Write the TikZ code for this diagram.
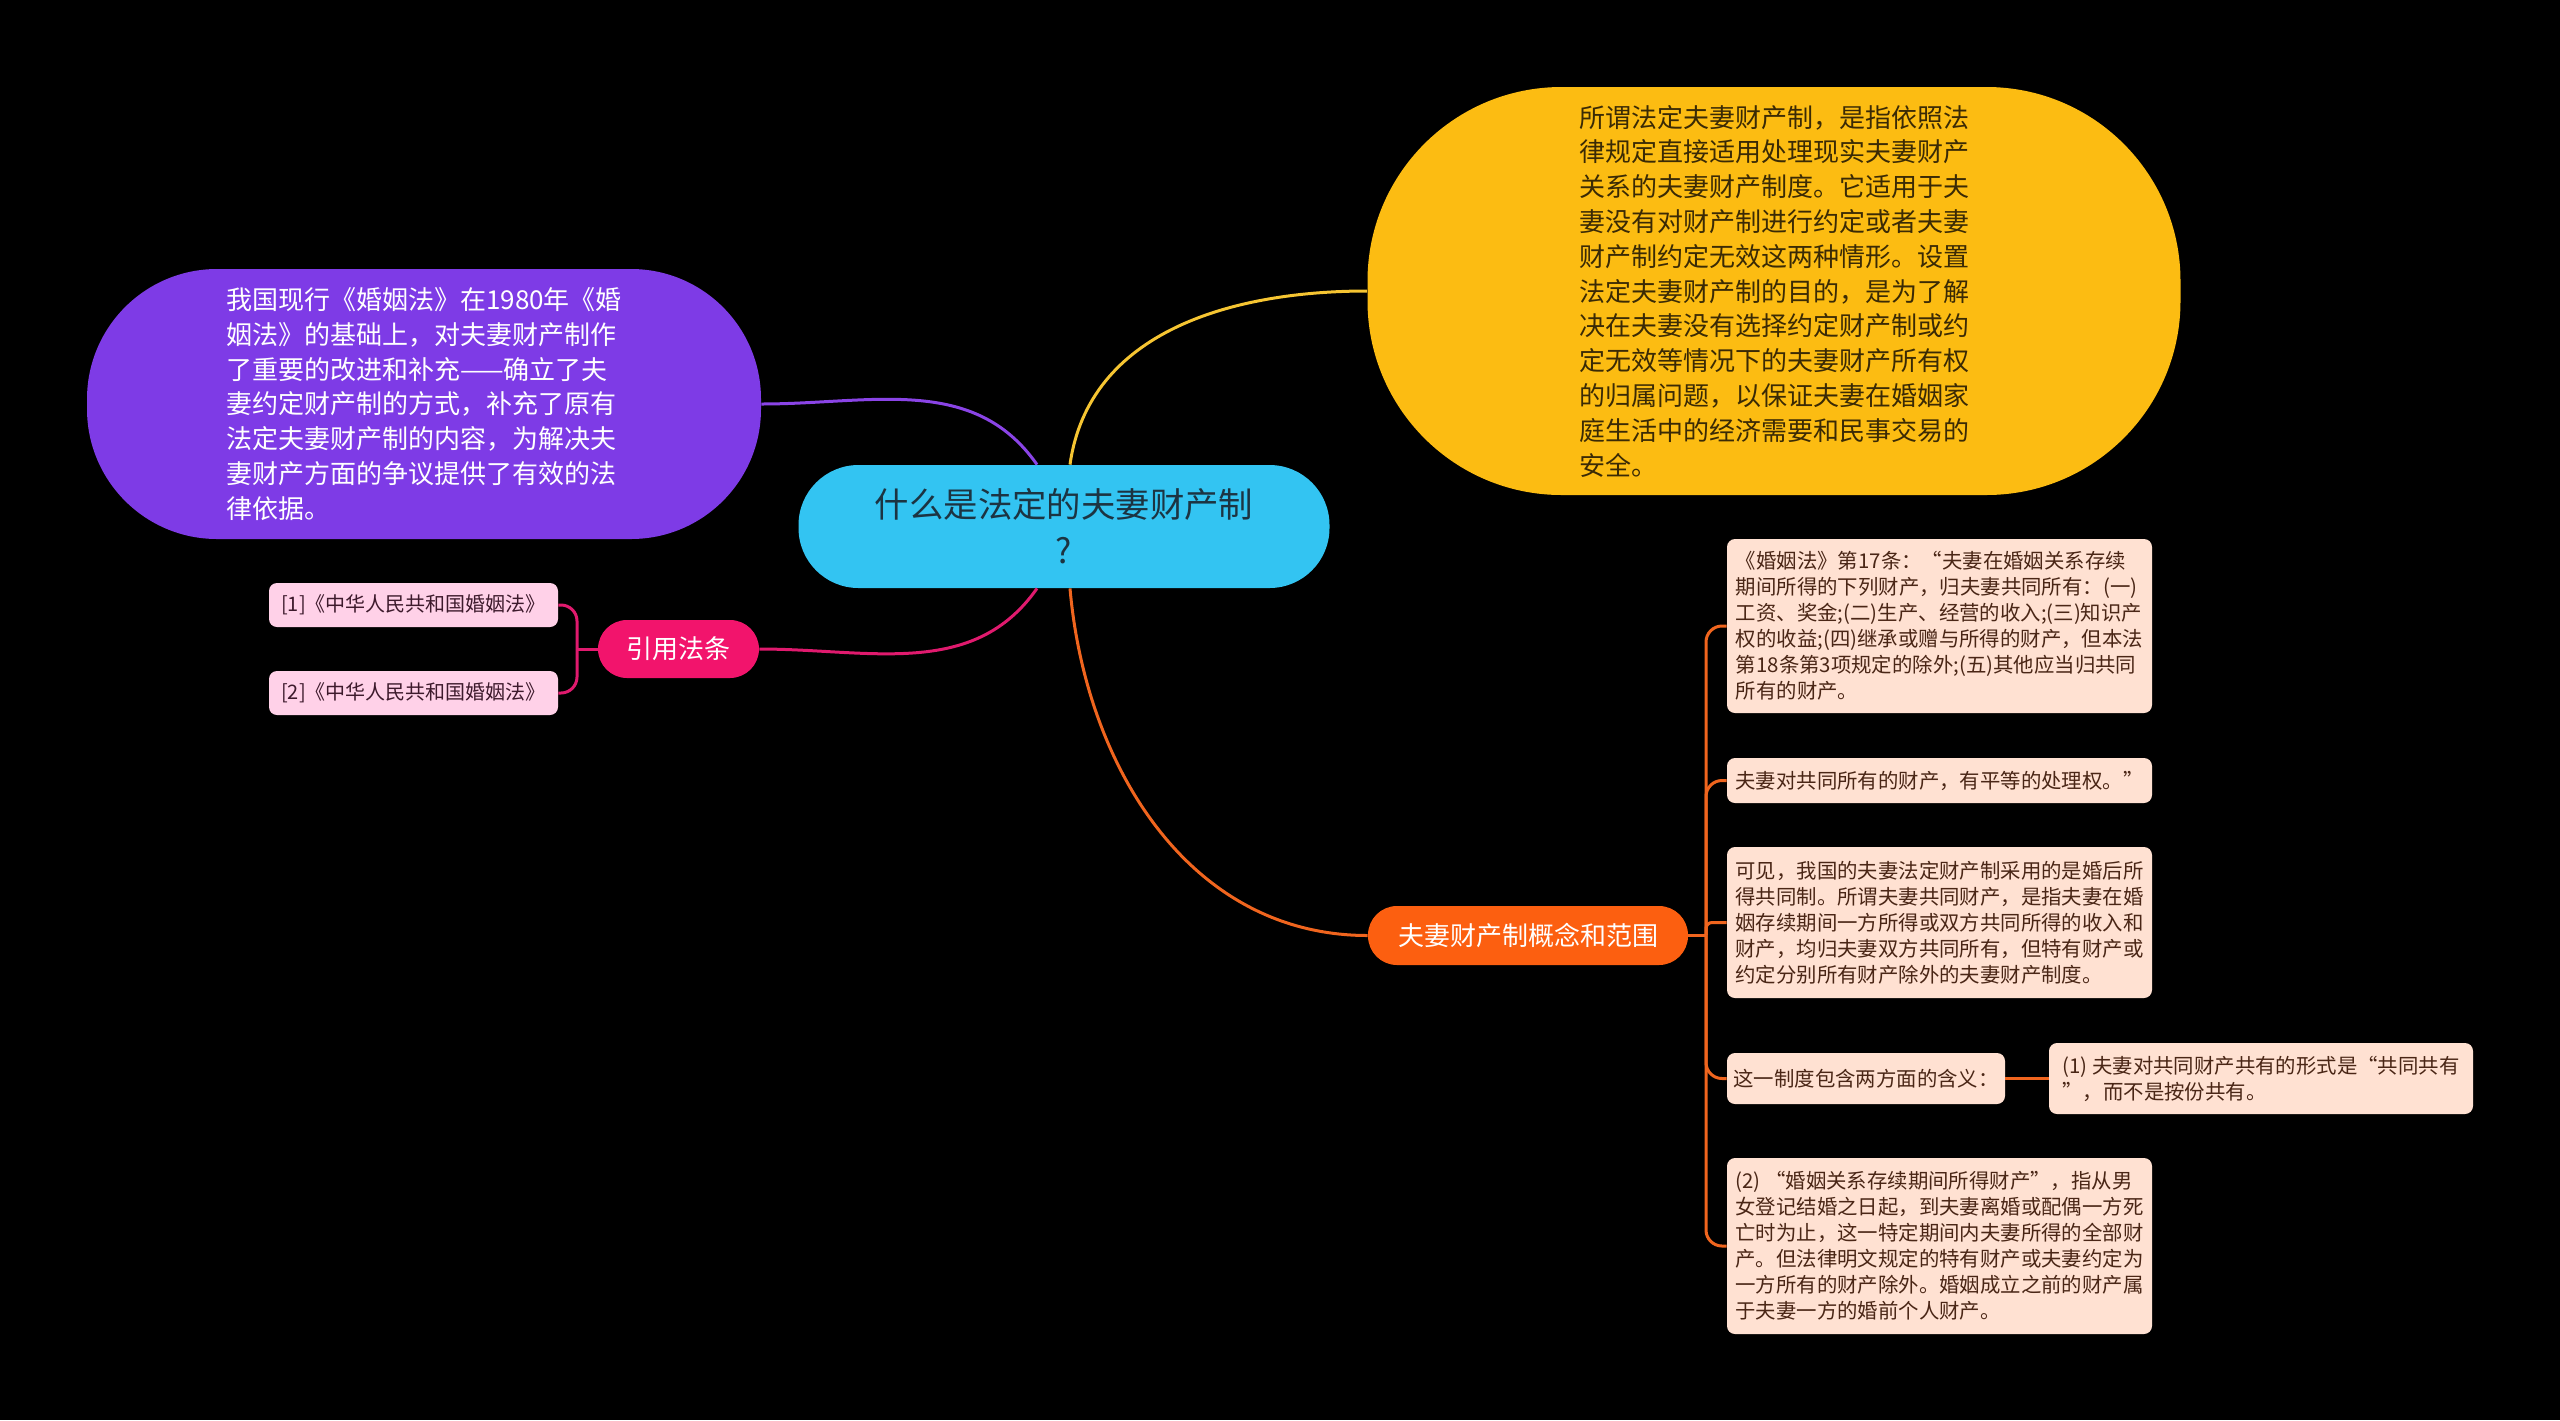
\documentclass[tikz,border=0pt]{standalone}
\usepackage{fontspec}
\setmainfont{Noto Sans CJK SC}
\usetikzlibrary{calc}
\definecolor{rootfill}{HTML}{33C4F2}
\definecolor{roottxt}{HTML}{1C3442}
\definecolor{purplefill}{HTML}{7E3BE6}
\definecolor{yellowfill}{HTML}{FCBC12}
\definecolor{yellowtxt}{HTML}{3A2A05}
\definecolor{citefill}{HTML}{F2146C}
\definecolor{citebox}{HTML}{FFD1E8}
\definecolor{citetxt}{HTML}{3D1A2C}
\definecolor{orangefill}{HTML}{FC5F10}
\definecolor{peach}{HTML}{FFE1D2}
\definecolor{peachtxt}{HTML}{4A2616}
\definecolor{lpurple}{HTML}{8A44E6}
\definecolor{lyellow}{HTML}{F6C532}
\definecolor{lpink}{HTML}{E01A6E}
\definecolor{lorange}{HTML}{F0651E}
\tikzset{
  rootnode/.style={rectangle, rounded corners=30pt, fill=rootfill, text=roottxt, align=center, inner sep=0pt,
    font=\fontsize{17.2pt}{23pt}\selectfont},
  bignode/.style={rectangle, inner sep=0pt, align=left, font=\fontsize{13pt}{17.4pt}\selectfont},
  mainnode/.style={rectangle, inner sep=0pt, align=center, text=white, rounded corners=14.5pt,
    font=\fontsize{13pt}{16pt}\selectfont},
  citeitem/.style={rectangle, inner sep=0pt, rounded corners=4pt, fill=citebox, text=citetxt,
    minimum width=144.5pt, minimum height=22pt, font=\fontsize{10pt}{12pt}\selectfont},
  leafbox/.style={rectangle, inner sep=0pt, rounded corners=4pt, fill=peach, text=peachtxt, align=left,
    font=\fontsize{10.2pt}{13pt}\selectfont},
  conn/.style={line width=1.5pt},
}
\begin{document}
\begin{tikzpicture}[x=0.5pt,y=-0.5pt]
\fill[black] (0,0) rectangle (2560,1420);
\useasboundingbox (0,0) rectangle (2560,1420);

% nodes
\node[rootnode, minimum width=265.5pt, minimum height=61.5pt] (root) at (1064,526.5)
  {什么是法定的夫妻财产制\\?};

\node[bignode, fill=purplefill, text=white, rounded corners=65pt, minimum width=337pt, minimum height=135pt] (purple) at (424,404)
  {我国现行《婚姻法》在1980年《婚\\姻法》的基础上，对夫妻财产制作\\了重要的改进和补充——确立了夫\\妻约定财产制的方式，补充了原有\\法定夫妻财产制的内容，为解决夫\\妻财产方面的争议提供了有效的法\\律依据。};

\node[bignode, fill=yellowfill, text=yellowtxt, rounded corners=97pt, minimum width=406.5pt, minimum height=204pt] (yellow) at (1774,291)
  {所谓法定夫妻财产制，是指依照法\\律规定直接适用处理现实夫妻财产\\关系的夫妻财产制度。它适用于夫\\妻没有对财产制进行约定或者夫妻\\财产制约定无效这两种情形。设置\\法定夫妻财产制的目的，是为了解\\决在夫妻没有选择约定财产制或约\\定无效等情况下的夫妻财产所有权\\的归属问题，以保证夫妻在婚姻家\\庭生活中的经济需要和民事交易的\\安全。};

\node[mainnode, fill=citefill, minimum width=80.5pt, minimum height=29pt] (cite) at (678.5,649) {引用法条};
\node[citeitem] (c1) at (413.5,605) {[1]《中华人民共和国婚姻法》};
\node[citeitem] (c2) at (413.5,693) {[2]《中华人民共和国婚姻法》};

\node[mainnode, fill=orangefill, minimum width=160pt, minimum height=29.5pt] (orange) at (1528,935.5) {夫妻财产制概念和范围};

\node[leafbox, minimum width=212.5pt, minimum height=87pt] (A) at (1939.5,626)
  {《婚姻法》第17条：“夫妻在婚姻关系存续\\期间所得的下列财产，归夫妻共同所有：(一)\\工资、奖金;(二)生产、经营的收入;(三)知识产\\权的收益;(四)继承或赠与所得的财产，但本法\\第18条第3项规定的除外;(五)其他应当归共同\\所有的财产。};
\node[leafbox, minimum width=212.5pt, minimum height=22.5pt] (B) at (1939.5,780.5)
  {夫妻对共同所有的财产，有平等的处理权。”};
\node[leafbox, minimum width=212.5pt, minimum height=75.5pt] (C) at (1939.5,922.5)
  {可见，我国的夫妻法定财产制采用的是婚后所\\得共同制。所谓夫妻共同财产，是指夫妻在婚\\姻存续期间一方所得或双方共同所得的收入和\\财产，均归夫妻双方共同所有，但特有财产或\\约定分别所有财产除外的夫妻财产制度。};
\node[leafbox, minimum width=139pt, minimum height=25.5pt] (D) at (1866,1078.5)
  {这一制度包含两方面的含义：};
\node[leafbox, minimum width=212pt, minimum height=35.5pt] (E) at (2261,1078.5)
  {(1) 夫妻对共同财产共有的形式是“共同共有\\”，而不是按份共有。};
\node[leafbox, minimum width=212.5pt, minimum height=88pt] (F) at (1939.5,1246)
  {(2) “婚姻关系存续期间所得财产”，指从男\\女登记结婚之日起，到夫妻离婚或配偶一方死\\亡时为止，这一特定期间内夫妻所得的全部财\\产。但法律明文规定的特有财产或夫妻约定为\\一方所有的财产除外。婚姻成立之前的财产属\\于夫妻一方的婚前个人财产。};

% connectors from root
\draw[conn, lpurple] (purple.east) to[out=0,in=125] ([xshift=-13.5pt]root.north);
\draw[conn, lyellow] ([xshift=3pt]root.north) to[out=82,in=180] (yellow.west);
\draw[conn, lpink] ([xshift=-13.5pt]root.south) to[out=-125,in=0] (cite.east);
\draw[conn, lorange] ([xshift=3pt]root.south) to[out=-85,in=180] (orange.west);

% citation branches
\coordinate (pj) at (577,649);
\draw[conn, lpink] (cite.west) -- (pj);
\draw[conn, lpink, rounded corners=8pt] (pj) |- (c1.east);
\draw[conn, lpink, rounded corners=8pt] (pj) |- (c2.east);

% orange branches
\coordinate (oj) at (1706,935.5);
\draw[conn, lorange] (orange.east) -- (oj);
\draw[conn, lorange, rounded corners=8pt] (oj) |- (A.west);
\draw[conn, lorange, rounded corners=8pt] (oj) |- (B.west);
\draw[conn, lorange, rounded corners=3pt] (oj) |- (C.west);
\draw[conn, lorange, rounded corners=8pt] (oj) |- (D.west);
\draw[conn, lorange, rounded corners=8pt] (oj) |- (F.west);
\draw[conn, lorange] (D.east) -- (E.west);
\end{tikzpicture}
\end{document}
